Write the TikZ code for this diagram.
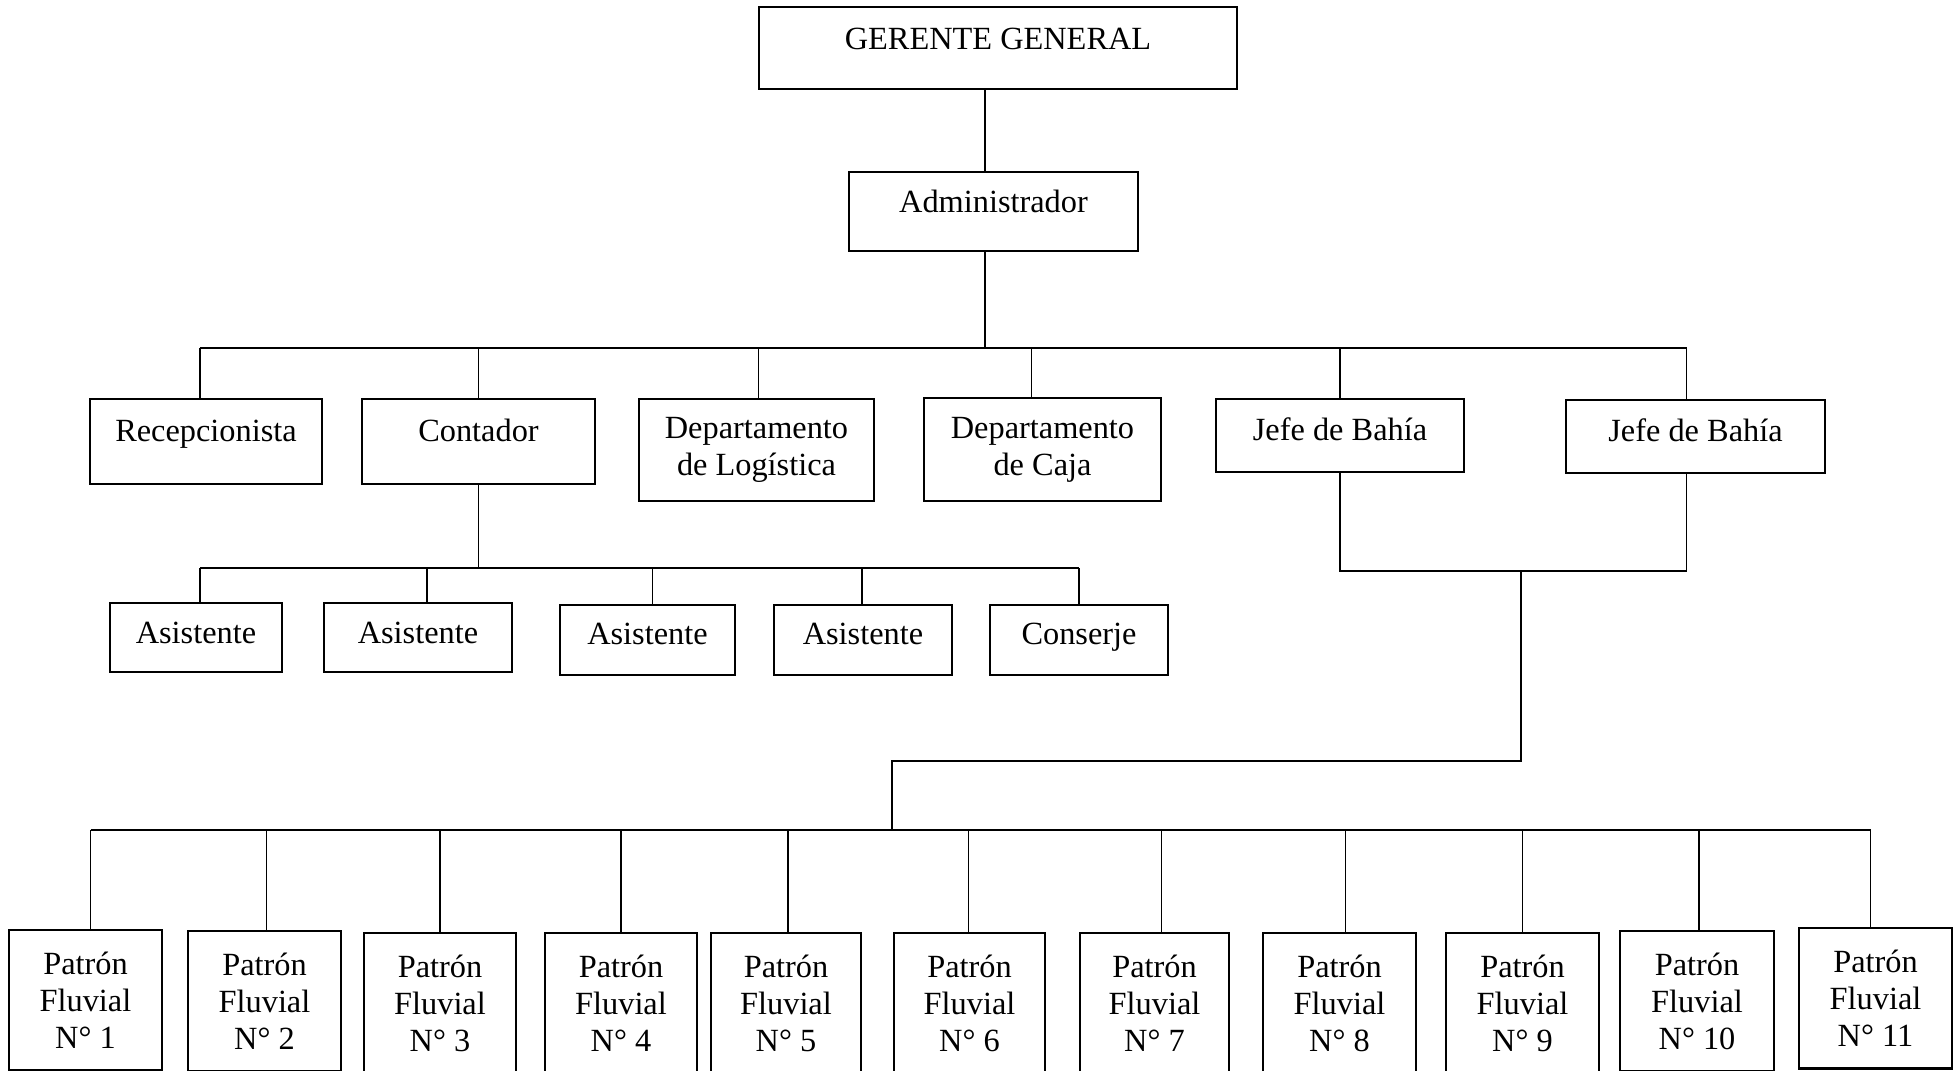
\documentclass[tikz,border=0pt]{standalone}
\usepackage{fontspec}
\setmainfont{Liberation Serif}
\usetikzlibrary{positioning,calc}

\begin{document}
\begin{tikzpicture}[x=0.01cm, y=-0.01cm,
    box/.style={draw, line width=0.7pt, inner sep=0pt, align=center, font=\fontsize{9.2}{10.6}\selectfont},
    one/.style={text height=0.25cm, text depth=#1},
    patron/.style={box, minimum width=1.53cm, minimum height=1.40cm, anchor=north},
    line/.style={line width=0.5pt}
]
\useasboundingbox (0,0) rectangle (1957,1071);

% top of the chart
\node[box, one=0.21cm, minimum width=4.78cm, minimum height=0.82cm] (gg) at (998,48) {GERENTE GENERAL};
\node[box, one=0.22cm, minimum width=2.89cm, minimum height=0.79cm] (adm) at (993.5,211.5) {Administrador};

% second level
\node[box, one=0.24cm, minimum width=2.32cm, minimum height=0.85cm] (rec) at (206,441.5) {Recepcionista};
\node[box, one=0.25cm, minimum width=2.33cm, minimum height=0.85cm] (cont) at (478.5,441.5) {Contador};
\node[box, minimum width=2.35cm, minimum height=1.02cm] (log) at (756.5,450) {Departamento\\de Logística};
\node[box, minimum width=2.37cm, minimum height=1.03cm] (caja) at (1042.5,449.5) {Departamento\\de Caja};
\node[box, one=0.14cm, minimum width=2.48cm, minimum height=0.73cm] (jb1) at (1340,435.5) {Jefe de Bahía};
\node[box, one=0.14cm, minimum width=2.59cm, minimum height=0.73cm] (jb2) at (1695.5,436.5) {Jefe de Bahía};

% under the Contador
\node[box, one=0.12cm, minimum width=1.72cm, minimum height=0.69cm] (as1) at (196,637.5) {Asistente};
\node[box, one=0.12cm, minimum width=1.88cm, minimum height=0.69cm] (as2) at (418,637.5) {Asistente};
\node[box, one=0.15cm, minimum width=1.75cm, minimum height=0.70cm] (as3) at (647.5,640) {Asistente};
\node[box, one=0.15cm, minimum width=1.78cm, minimum height=0.70cm] (as4) at (863,640) {Asistente};
\node[box, one=0.15cm, minimum width=1.78cm, minimum height=0.70cm] (cons) at (1079,640) {Conserje};

% patrones fluviales
\node[patron] (p1) at (85.5,929) {Patrón\\Fluvial\\N° 1};
\node[patron] (p2) at (264.5,930) {Patrón\\Fluvial\\N° 2};
\node[patron, minimum width=1.52cm] (p3) at (440,932) {Patrón\\Fluvial\\N° 3};
\node[patron, minimum width=1.52cm] (p4) at (621,932) {Patrón\\Fluvial\\N° 4};
\node[patron, minimum width=1.50cm] (p5) at (786,932) {Patrón\\Fluvial\\N° 5};
\node[patron, minimum width=1.51cm] (p6) at (969.5,932) {Patrón\\Fluvial\\N° 6};
\node[patron, minimum width=1.49cm] (p7) at (1154.5,932) {Patrón\\Fluvial\\N° 7};
\node[patron] (p8) at (1339.5,932) {Patrón\\Fluvial\\N° 8};
\node[patron] (p9) at (1522.5,932) {Patrón\\Fluvial\\N° 9};
\node[patron, minimum width=1.54cm] (p10) at (1697,930) {Patrón\\Fluvial\\N° 10};
\node[patron] (p11) at (1875.5,927) {Patrón\\Fluvial\\N° 11};

% bus lines
\coordinate (spine) at (985,0);
\coordinate (bus1) at (0,348);
\coordinate (bus2) at (0,568);
\coordinate (j) at (1521,571);
\coordinate (k) at (892,761);
\coordinate (pbus) at (892,830);

\draw[line] (gg.south -| spine) -- (adm.north -| spine);
\draw[line] (adm.south -| spine) -- (spine |- bus1);
\draw[line] ([xshift=-0.06cm]rec.north |- bus1) -- ([xshift=-0.09cm]jb2.north |- bus1);
\foreach \n/\s in {rec/-0.06,cont/0,log/0.02,caja/-0.11,jb1/0,jb2/-0.09}
    \draw[line] ([xshift=\s cm]\n.north) -- ([xshift=\s cm]\n.north |- bus1);

\draw[line] (cont.south) -- (cont.south |- bus2);
\draw[line] ([xshift=0.04cm]as1.north |- bus2) -- (cons.north |- bus2);
\foreach \n/\s in {as1/0.04,as2/0.09,as3/0.05,as4/-0.01,cons/0}
    \draw[line] ([xshift=\s cm]\n.north) -- ([xshift=\s cm]\n.north |- bus2);

\draw[line] (jb1.south) -- (jb1.south |- j) -- ([xshift=-0.09cm]jb2.south |- j) -- ([xshift=-0.09cm]jb2.south);
\draw[line] (j) |- (k) -- (pbus);
\draw[line] ([xshift=0.05cm]p1.north |- pbus) -- ([xshift=-0.05cm]p11.north |- pbus);
\foreach \i/\s in {1/0.05,2/0.02,3/0,4/0,5/0.02,6/-0.01,7/0.07,8/0.06,9/0,10/0.02,11/-0.05}
    \draw[line] ([xshift=\s cm]p\i.north) -- ([xshift=\s cm]p\i.north |- pbus);
\end{tikzpicture}
\end{document}
